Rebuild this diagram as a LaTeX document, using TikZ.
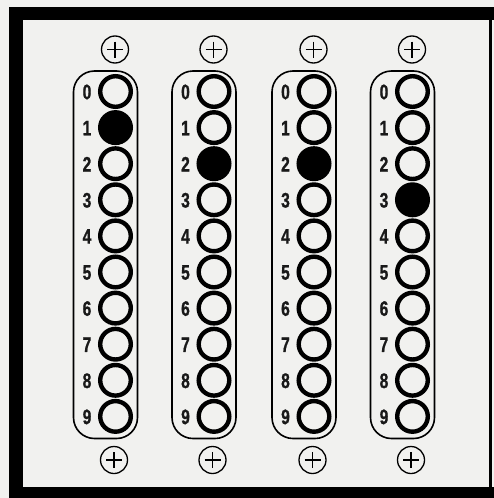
\documentclass[tikz,border=0pt]{standalone}
\usepackage{fontspec}
\usetikzlibrary{calc}
\newfontfamily\digfont{Liberation Sans}[FakeStretch=0.74,FakeBold=1,UprightFont=* Bold]
\definecolor{paper}{HTML}{F1F1EF}
\newcommand{\digtext}[1]{{\digfont\fontsize{21}{21}\selectfont #1}}
\begin{document}
\begin{tikzpicture}[x=1pt,y=-1pt,
  ring/.style={circle,draw=black,line width=4.4pt,minimum size=30.6pt,inner sep=0pt},
  dot/.style={ring,fill=black},
  digit/.style={inner sep=0pt,text=black!90},
  plusbtn/.style={circle,draw=black,line width=1.3pt,minimum size=27pt,inner sep=0pt},
  capsule/.style={draw=black,line width=1.6pt,rounded corners=21pt},
  framebar/.style={fill=black,draw=none}]
\useasboundingbox (0,0) rectangle (494,498);
\fill[paper] (0,0) rectangle (494,498);
% frame
\fill[framebar] (9,7) rectangle (23,498);
\fill[framebar] (9,7) rectangle (494,20);
\fill[framebar] (9,487) rectangle (494,498);
\fill[framebar] (489,7) rectangle (491.5,498);
\foreach \c/\cx/\on in {1/115.5/1,2/214/2,3/314/2,4/412.5/3}{
  \draw[capsule] (\cx-42,71) rectangle (\cx+22,438.5);
  \node[plusbtn] (pt\c) at (\cx-0.5,49.5) {};
  \draw[line width=1.6pt] ($(pt\c)+(-8,0)$) -- ($(pt\c)+(8,0)$);
  \draw[line width=1.6pt] ($(pt\c)+(0,-8)$) -- ($(pt\c)+(0,8)$);
  \node[plusbtn] (pb\c) at (\cx-1.5,460) {};
  \draw[line width=1.6pt] ($(pb\c)+(-8,0)$) -- ($(pb\c)+(8,0)$);
  \draw[line width=1.6pt] ($(pb\c)+(0,-8)$) -- ($(pb\c)+(0,8)$);
  \foreach \r in {0,...,9}{
    \pgfmathsetmacro{\yy}{91.5+36.1*\r}
    \ifnum\r=\on
      \node[dot] (h\c-\r) at (\cx,\yy) {};
    \else
      \node[ring] (h\c-\r) at (\cx,\yy) {};
    \fi
    \node[digit] (d\c-\r) at (\cx-28.5,\yy+0.5) {\digtext{\r}};
  }
}
\end{tikzpicture}
\end{document}
